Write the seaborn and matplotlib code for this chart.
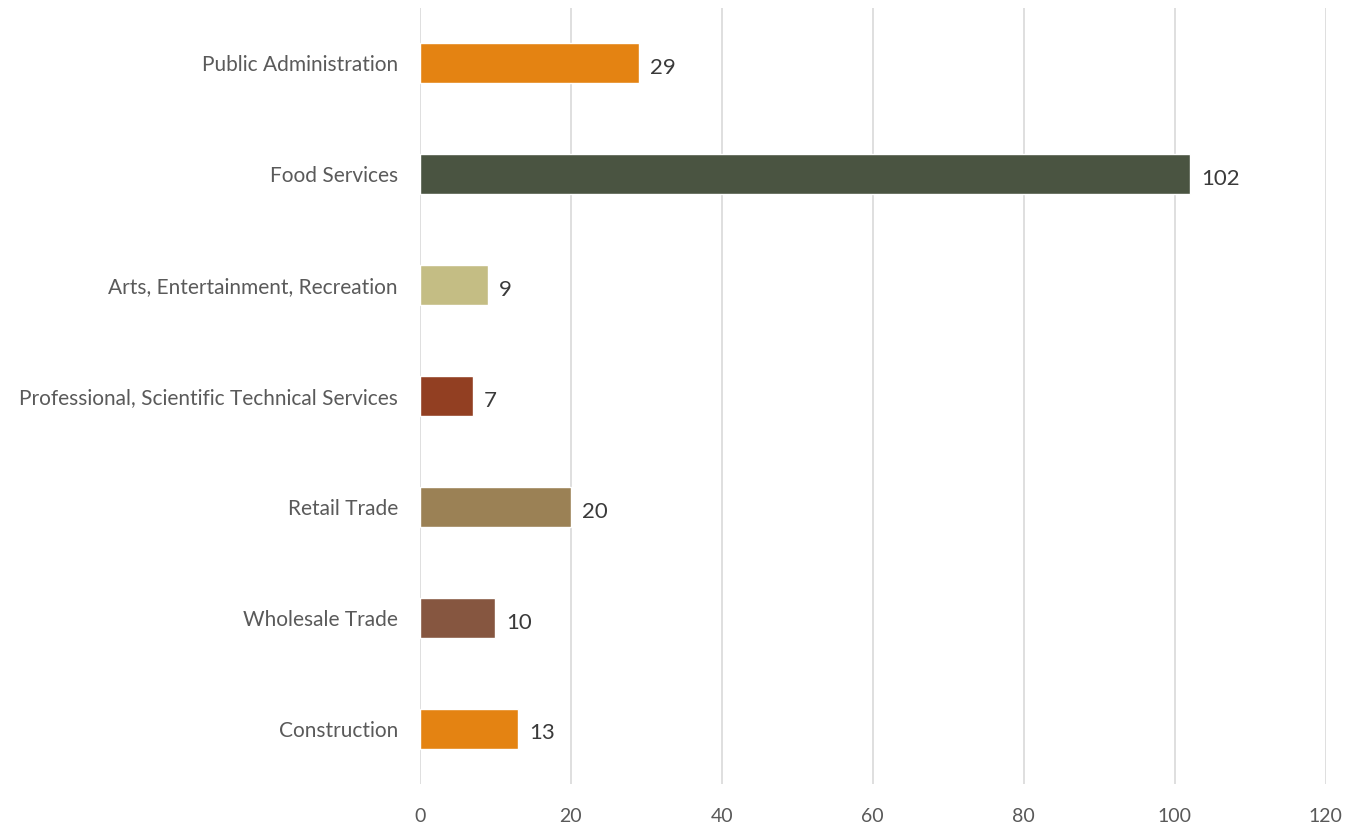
import matplotlib
matplotlib.use("Agg")
import matplotlib.pyplot as plt
import seaborn as sns
import pandas as pd

categories = ["Public Administration", "Food Services", "Arts, Entertainment, Recreation",
              "Professional, Scientific Technical Services", "Retail Trade",
              "Wholesale Trade", "Construction"]
values = [29, 102, 9, 7, 20, 10, 13]
colors = ["#E48312", "#4A5441", "#C4BD84", "#923F22", "#9B8155", "#865640", "#E48312"]
xticks = [0, 20, 40, 60, 80, 100, 120]

sns.set_theme(style="white")
plt.rcParams['font.family'] = ['Lato', 'DejaVu Sans']

df = pd.DataFrame({"category": categories, "value": values})

fig = plt.figure(figsize=(13.56, 8.23), dpi=100)
ax = fig.add_axes([420/1356, 1-784/823, (1325.5-420)/1356, (784-8)/823])

sns.barplot(data=df, y="category", x="value", hue="category", palette=colors,
            order=categories, hue_order=categories, width=0.36, legend=False,
            saturation=1, ax=ax)

for c in ax.containers:
    labels = ax.bar_label(c, padding=8, fontsize=16, color="#3A3A3A")
    for lb in labels:
        lb.xyann = (lb.xyann[0], -3.5)

ax.set_xlim(0, 120)
ax.set_ylim(6.5, -0.5)
ax.set_xticks(xticks)
ax.set_xticklabels([str(t) for t in xticks])
ax.xaxis.grid(True, color="#D9D9D9", linewidth=1.2)
ax.set_axisbelow(True)
for s in ax.spines.values():
    s.set_visible(False)
ax.set_xlabel("")
ax.set_ylabel("")
ax.tick_params(axis="y", length=0, pad=16, labelsize=15, labelcolor="#5A5A5A")
ax.tick_params(axis="x", length=0, pad=17, labelsize=14, labelcolor="#595959")

fig.savefig("out.png", dpi=100)
